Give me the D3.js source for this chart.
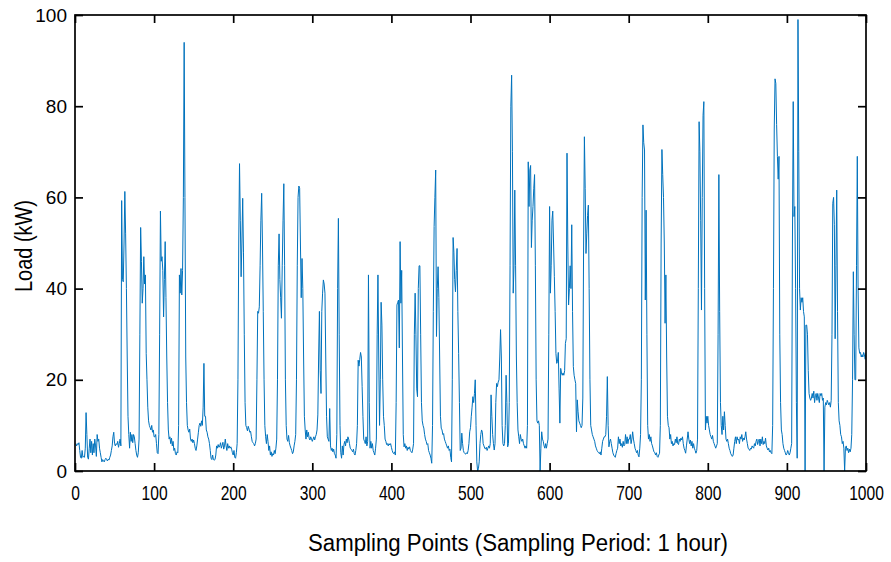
<!DOCTYPE html>
<html><head><meta charset="utf-8">
<script src="https://cdn.jsdelivr.net/npm/d3@7"></script>
<style>body{margin:0;background:#fff}svg{display:block}</style>
</head><body><svg id="c" width="891" height="562"></svg>
<script>
const xTicks = [0,100,200,300,400,500,600,700,800,900,1000];
const yTicks = [0,20,40,60,80,100];
const xLabel = "Sampling Points (Sampling Period: 1 hour)";
const yLabel = "Load (kW)";
const load = [
// 0-99
6,5.5,6,5.8,6.2,4.5,3,2.8,4.5,3,
3.2,3,5,12.8,8,3,2.6,5,7,4,
6.5,3.5,6,4,7,5.5,3.2,8,6.5,7,
5,4,3,2,2.5,2.2,2,2.5,2.8,2.5,
2.2,2.6,2.4,3,3.5,4.5,5.5,7.5,8.5,6,
5.5,6,5.8,6.5,5.2,6,7,5.5,59.3,42,
41.5,50,61.3,52,40,25,12,8,5,8.5,
6.5,8,6.2,8,7.5,6,4.5,3.5,3,4,
7,30,53.4,46,36.8,40,47,41,43,25.8,
20,14,11,10,9.5,9,10,8.5,9,7.5,
// 100-199
7.5,8,6,4,3.8,8,30,57,46,47,
44,33.8,42,50.3,38,25,15,9,7,7.5,
6,7.2,5.5,6.5,4.5,5,3.8,3.5,4.2,4,
10,43,39,44.4,38.6,44,60,94,60,25,
15,10,9,8.5,9.2,7,6.5,7,6.2,6.8,
6,5,4.5,5.5,7,8.5,10,10.5,9.8,11,
10,14,23.6,12,12,9,8.5,7.5,7,6,
4.5,2.8,2.5,3.5,2.5,2.4,2.5,3.5,5.5,5,
5.8,5.2,5.5,6.2,5,5.6,6.3,4.8,5.5,7,
5.5,4.5,6,5,5.5,5,5.3,4.8,4,3.5,
// 200-299
4.5,3,2.8,4,6,20,50,67.4,55,42.6,
50,59.8,48,30,15,10,9.5,8.8,9.8,9.2,
8.5,8.7,7.5,6.5,6.2,6,5.5,6,7,20,
35,34.6,36,45,55,60.9,50,35,20,10,
7.5,6,8,6.5,4.5,5.5,3.5,4.2,3.2,3.8,
3.5,4.5,3.8,5,7,20,45,52,42,38,
33.5,45,55,63,45,20,10,7,6.5,7.8,
6.2,5.5,5,4.5,3.8,4.2,5.5,6.5,8,20,
45,60,62.5,62,50,38,46.6,40,25,12,
9,7,9,7.5,8.5,7.2,6.8,7.5,7,6.5,
// 300-399
7,7.5,6.8,7.5,8,9,12.3,25,35,22,
17,35,39,41.9,41,39,25,12,7.5,7,
6.5,13.7,5.5,4.5,5,4.2,4.8,3.8,3.5,2.8,
8,40,55.4,30,10,4,2.8,5.5,3.5,5.8,
6.5,5.5,7,6.2,7.5,7,6,5,4.8,4.5,
4.2,4.8,3.8,3.5,4.5,6,10,24.3,23,24.5,
26,25,18.5,12,7,6.5,6,7.5,5.5,6.5,
43,15,5,6.5,5,6,4.5,4,3.5,5,
7,30,43,25,10,20,37,32,20,12,
10,7,6.5,5.8,6,5.5,6,5.7,6,5.2,
// 400-499
4.5,4,3.8,4.2,3.5,15,36.4,37,37.5,27,
50.3,36.8,44,25,8,5.3,6,5,5.5,4.5,
5.2,4.8,5.3,4.5,4.2,4,4.8,6,30,39,
30,18,16.3,40,45,45,30,15,11,10,
9.4,8,7,6.5,5.8,6,4.5,4,3.5,2.8,
1.7,10,35,53.6,60,66,29.5,40,44.8,38,
25,12,9.4,9,8,8.2,7,6.5,6,5.5,
5,5.5,4.5,4.8,3,2,20,51.2,48,42,
39.3,44,48.8,35,25.8,15,4.5,5,8.3,6,
4.5,4,3.8,3.7,4,3.8,4.5,6,8.6,9.5,
// 500-599
12,14,16.3,15,17,20,10,2,0,0.5,
2,6,8,9,8.5,6,5.5,5,4.8,5.2,
4.5,5,5.5,5,6,16.7,12,8,6,4.6,
6,15,19.2,18.5,19.5,20,25,31,25,10,
6,5.5,6,10,21,15,5.3,6,15,45,
80,86.8,70,39,45,61.6,45,25,15,9,
7.5,6,8,7,6.5,7,6,5.5,5,5.5,
5,10,67.8,58,66,67,49,55,58,62,
65,45,20,11,10.5,11,10,0,5,8.6,
7,6.5,5.5,5,6,5,6,7,30,58,
// 600-699
39,45,55,57,50,42.6,35,25.8,23.6,24,
26,18,10.5,22.5,21.5,21,21.5,21,22,28,
29,69.7,50,36.4,40,45,40,54,35,22.9,
21,20,19.2,8.6,15.6,13,11,10.5,10,9.5,
10,16,50,73.3,62,47.7,52,56,58.3,40,
20,10,9,8,7.5,7,6.5,5.5,5,4.5,
4.2,4,3.8,4.2,3.5,5,6.5,7,7.5,7.5,
8,12,20.7,10,5.3,6.5,7,6,5,4,
3.5,3.2,3,3.8,4.5,5,7.5,6,7,5.5,
6,5.2,6.5,5.5,5.8,8,6,7.5,6,7,
// 700-799
7,8,6,7,8.6,7,6,5,4.5,4,
4.5,3.5,3.1,5,8,20,60,75.9,72,70.4,
37.5,57.2,30,10,7,8,6.5,7.5,6,5.5,
4.8,4.2,4,3.5,4,3.2,3,3.5,3.9,10,
50,70.5,65,60,50,32.4,43,25,12,10,
9.5,7,8,6,6.5,5.5,6,5.8,7,6.2,
7.5,6,5.8,7,6.5,7.2,6.8,7.5,6,5,
4.5,3.9,5.5,7,8.6,7,6,6.8,5.5,6.5,
5,6,5,4.5,3.9,4.5,7,40,76.6,70,
55,35.3,60,78,81,40,9,12,10.5,12,
// 800-899
10,9,8,7.5,7,7.8,6.5,6,5.5,5,
5.5,6,30,65,35,15,10,8,12,9,
13,10,7,6.5,7,6,5,4.5,3.8,3.5,
3.2,3.5,5,6.5,7.5,6,7.5,6.8,7,6,
7.5,7,8,6.5,7.2,6.8,7.5,8.6,7,6,
5,4.8,4.5,5,4.8,5.5,5.2,5,6,5.5,
6.5,7,5.8,6.5,7,5.5,7,6,7.5,5.8,
6.5,6,7.2,5.5,5,4.6,5,4.2,4.5,4,
3.8,10,40,75,86,85,76,69,64,69,
30,15,9,8,6,5,4.5,4,3.5,3.8,
// 900-999
4.5,4,3.5,4,5,6,50,81,55.8,58,
40,15,2.8,99,70,40,35.3,38,37,38,
35,33.8,0,32,32,30,22,17,16,15.5,
16,17,16,17.5,15,16.5,17,15.5,17,16,
15,17,16.5,17,15.5,16,0,14,15,14.5,
15.5,15,14.5,15,14,15.5,30,58.7,60,54,
29,45,61.6,35,15,11,10,8,7.5,6,
6.5,5,0,5,5.5,4.5,5,4,4.8,4.2,
5,8,20,43.7,30,20,20,45,69,40,
27,25.8,26,25,25.5,25,26,25.5,24.5,26
];

const W = 891, H = 562;
const L = 75, R = 866, T = 15, B = 471;
const svg = d3.select("#c");
const font = "'Liberation Sans', Arial, sans-serif";

const x = d3.scaleLinear().domain([0, 1000]).range([L, R]);
const y = d3.scaleLinear().domain([0, 100]).range([B, T]);

const line = d3.line().x((d, i) => x(i + 1)).y(d => y(d));

svg.append("defs").append("clipPath").attr("id", "clip")
  .append("rect").attr("x", L).attr("y", T - 1).attr("width", R - L).attr("height", B - T + 2);

svg.append("path").datum(load)
  .attr("d", line)
  .attr("fill", "none")
  .attr("stroke", "#0072BD")
  .attr("stroke-width", 1)
  .attr("stroke-linejoin", "round")
  .attr("clip-path", "url(#clip)");

const tk = 8;
function styleAxis(g) {
  g.select(".domain").remove();
  g.selectAll(".tick line").attr("stroke", "#000").attr("stroke-width", 1.7);
  g.selectAll(".tick text").attr("font-family", font).attr("font-size", 19).attr("fill", "#000");
}
const gx = svg.append("g").attr("transform", `translate(0,${B})`)
  .call(d3.axisBottom(x).tickValues(xTicks).tickSizeInner(-tk).tickSizeOuter(0).tickPadding(15).tickFormat(d3.format("d")))
  .call(styleAxis);
gx.selectAll(".tick text")
  .attr("font-size", 20)
  .attr("transform", "scale(0.78,1)");
svg.append("g").attr("transform", `translate(0,${T})`)
  .call(d3.axisTop(x).tickValues(xTicks).tickSizeInner(-tk).tickSizeOuter(0).tickFormat(""))
  .call(styleAxis);
svg.append("g").attr("transform", `translate(${L},0)`)
  .call(d3.axisLeft(y).tickValues(yTicks).tickSizeInner(-tk).tickSizeOuter(0).tickPadding(8).tickFormat(d3.format("d")))
  .call(styleAxis);
svg.append("g").attr("transform", `translate(${R},0)`)
  .call(d3.axisRight(y).tickValues(yTicks).tickSizeInner(-tk).tickSizeOuter(0).tickFormat(""))
  .call(styleAxis);

svg.append("rect").attr("x", L).attr("y", T).attr("width", R - L).attr("height", B - T)
  .attr("fill", "none").attr("stroke", "#000").attr("stroke-width", 1.7);

svg.append("text").attr("x", 518).attr("y", 551)
  .attr("text-anchor", "middle").attr("font-family", font).attr("font-size", 23)
  .attr("textLength", 420).attr("lengthAdjust", "spacingAndGlyphs")
  .text(xLabel);
svg.append("text").attr("transform", `translate(32,246) rotate(-90)`)
  .attr("text-anchor", "middle").attr("font-family", font).attr("font-size", 23)
  .attr("textLength", 92).attr("lengthAdjust", "spacingAndGlyphs")
  .text(yLabel);
</script></body></html>
